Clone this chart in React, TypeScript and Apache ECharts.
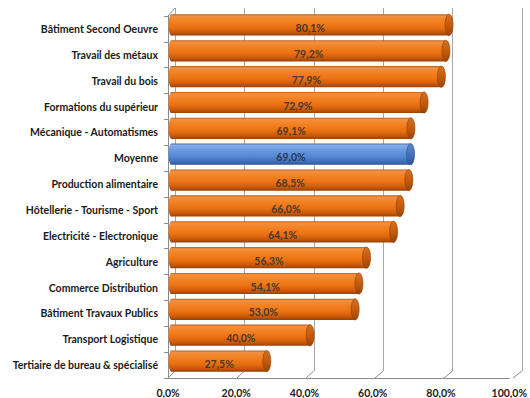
import React, { useEffect, useRef } from "react";
import * as echarts from "echarts";

const categories = [
  "Bâtiment Second Oeuvre",
  "Travail des métaux",
  "Travail du bois",
  "Formations du supérieur",
  "Mécanique - Automatismes",
  "Moyenne",
  "Production alimentaire",
  "Hôtellerie - Tourisme - Sport",
  "Electricité - Electronique",
  "Agriculture",
  "Commerce Distribution",
  "Bâtiment Travaux Publics",
  "Transport Logistique",
  "Tertiaire de bureau & spécialisé",
];
const values = [80.1, 79.2, 77.9, 72.9, 69.1, 69.0, 68.5, 66.0, 64.1, 56.3, 54.1, 53.0, 40.0, 27.5];
const highlight = "Moyenne";
const xTicks = [0, 20, 40, 60, 80, 100];

const fmt = (v: number) => v.toFixed(1).replace(".", ",") + "%";

const lin = (stops: [number, string][]) => ({
  type: "linear",
  x: 0,
  y: 0,
  x2: 0,
  y2: 1,
  colorStops: stops.map(([offset, color]) => ({ offset, color })),
});

const orangeBody = lin([
  [0, "#B25C1A"],
  [0.08, "#F39040"],
  [0.3, "#F38224"],
  [0.6, "#EB7212"],
  [0.85, "#C8590A"],
  [1, "#984104"],
]);
const orangeCap = lin([
  [0, "#D67022"],
  [0.5, "#C45C0D"],
  [1, "#9A4405"],
]);
const blueBody = lin([
  [0, "#3F6CB0"],
  [0.08, "#86AEE6"],
  [0.3, "#6A9ADF"],
  [0.6, "#5587D2"],
  [0.85, "#406FB8"],
  [1, "#2E5596"],
]);
const blueCap = lin([
  [0, "#5786CC"],
  [0.5, "#4574BC"],
  [1, "#2E5596"],
]);

// wall geometry (decorative)
const FRONT_L = 168, FRONT_T = 16, FRONT_W = 345, FRONT_H = 362;
const BACK_L = 175, BACK_T = 8, BACK_W = 347, BACK_H = 363;

export default function App() {
  const ref = useRef<HTMLDivElement>(null);
  useEffect(() => {
    if (!ref.current) return;
    const chart = echarts.init(ref.current, undefined, { renderer: "svg" });
    const lineColor = "#8C8C8C";
    const diagLines: any[] = xTicks.map((t) => ({
      type: "line",
      shape: {
        x1: FRONT_L + (t / 100) * FRONT_W,
        y1: FRONT_T + FRONT_H,
        x2: BACK_L + (t / 100) * BACK_W,
        y2: BACK_T + BACK_H,
      },
      style: { stroke: lineColor, lineWidth: 1 },
      silent: true,
    }));
    diagLines.push({
      type: "line",
      shape: { x1: FRONT_L, y1: FRONT_T, x2: BACK_L, y2: BACK_T },
      style: { stroke: lineColor, lineWidth: 1 },
      silent: true,
    });
    chart.setOption({
      animation: false,
      backgroundColor: "#ffffff",
      grid: [
        { left: FRONT_L, top: FRONT_T, width: FRONT_W, height: FRONT_H },
        { left: BACK_L, top: BACK_T, width: BACK_W, height: BACK_H },
        { left: 171.5, top: 12, width: 346.5, height: 362 },
      ],
      xAxis: [
        {
          gridIndex: 0,
          type: "value",
          min: 0,
          max: 100,
          interval: 20,
          axisLine: { show: true, lineStyle: { color: lineColor } },
          axisTick: { show: false },
          splitLine: { show: false },
          axisLabel: {
            formatter: (v: number) => fmt(v),
            fontFamily: "Lato",
            fontWeight: "bold",
            fontSize: 10.5,
            color: "#222222",
            margin: 9,
          },
        },
        {
          gridIndex: 1,
          type: "value",
          min: 0,
          max: 100,
          interval: 20,
          axisLine: { show: false },
          axisTick: { show: false },
          axisLabel: { show: false },
          splitLine: { show: true, lineStyle: { color: "#A6A6A6", width: 1 } },
        },
        { gridIndex: 2, type: "value", min: 0, max: 100, show: false },
      ],
      yAxis: [
        {
          gridIndex: 0,
          type: "category",
          inverse: true,
          data: categories,
          axisLine: { show: true, lineStyle: { color: lineColor } },
          axisTick: { show: true, inside: false, length: 4, lineStyle: { color: lineColor } },
          axisLabel: {
            fontFamily: "Lato",
            fontWeight: "bold",
            fontSize: 10.5,
            color: "#1a1a1a",
            margin: 10,
          },
        },
        { gridIndex: 1, type: "category", inverse: true, data: categories, show: false },
        { gridIndex: 2, type: "category", inverse: true, data: categories, show: false },
      ],
      series: [
        {
          type: "custom",
          xAxisIndex: 2,
          yAxisIndex: 2,
          encode: { x: 0, y: 1 },
          data: values.map((v, i) => [v, i]),
          renderItem: (params: any, api: any) => {
            const v = api.value(0);
            const idx = api.value(1);
            const s = api.coord([0, idx]);
            const e = api.coord([v, idx]);
            const band = api.size([0, 1])[1];
            const h = band * 0.82;
            const y0 = s[1] - h / 2;
            const avg = categories[idx] === highlight;
            const body = avg ? blueBody : orangeBody;
            const cap = avg ? blueCap : orangeCap;
            const edge = avg ? "#2C5190" : "#8E3E04";
            return {
              type: "group",
              children: [
                {
                  type: "ellipse",
                  shape: { cx: s[0], cy: s[1], rx: 3, ry: h / 2 },
                  style: { fill: body },
                },
                {
                  type: "rect",
                  shape: { x: s[0], y: y0, width: e[0] - s[0], height: h },
                  style: { fill: body },
                },
                {
                  type: "ellipse",
                  shape: { cx: e[0], cy: s[1], rx: 4, ry: h / 2 },
                  style: { fill: cap, stroke: edge, lineWidth: 0.6 },
                },
                {
                  type: "text",
                  style: {
                    text: fmt(v),
                    x: (s[0] + e[0]) / 2,
                    y: s[1] + 3,
                    align: "center",
                    verticalAlign: "middle",
                    font: "bold 10.5px Lato",
                    fill: avg ? "#25395A" : "#4A382A",
                  },
                },
              ],
            };
          },
        },
      ],
      graphic: diagLines,
    });
    return () => chart.dispose();
  }, []);
  return (
    <div
      ref={ref}
      style={{ position: "fixed", left: 0, top: 0, width: 530, height: 398 }}
    />
  );
}
